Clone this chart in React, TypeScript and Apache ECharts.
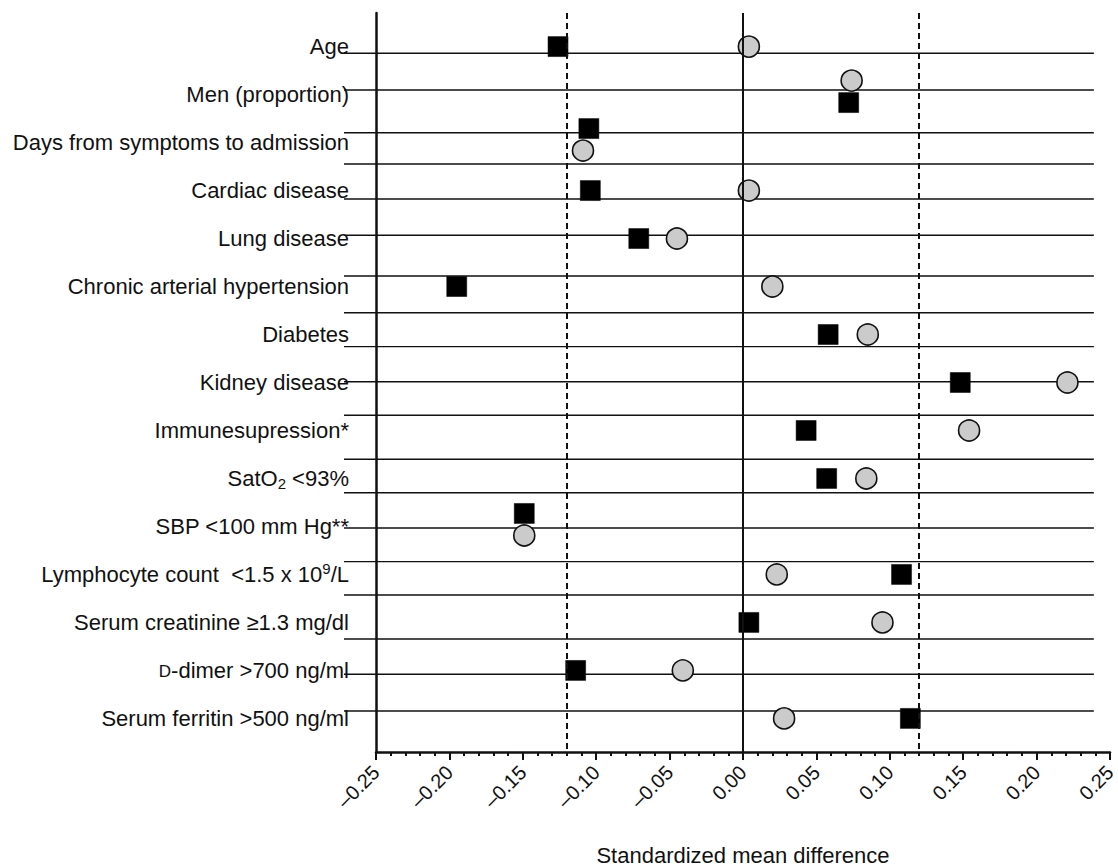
import { useEffect, useRef } from "react";
import * as echarts from "echarts";

// Row labels (top to bottom). Rich markup: {sub|..} subscript, {sup|..} superscript, {sc|..} small caps
const categories = [
  "Age",
  "Men (proportion)",
  "Days from symptoms to admission",
  "Cardiac disease",
  "Lung disease",
  "Chronic arterial hypertension",
  "Diabetes",
  "Kidney disease",
  "Immunesupression*",
  "SatO{sub|2} <93%",
  "SBP <100 mm Hg**",
  "Lymphocyte count  <1.5 x 10{sup|9}/L",
  "Serum creatinine \u22651.3 mg/dl",
  "{sc|D}-dimer >700 ng/ml",
  "Serum ferritin >500 ng/ml",
];

// Standardized mean difference — black squares
const squareValues = [
  -0.126, 0.072, -0.105, -0.104, -0.071, -0.195, 0.058, 0.148, 0.043, 0.057,
  -0.149, 0.108, 0.004, -0.114, 0.114,
];

// Standardized mean difference — grey circles
const circleValues = [
  0.004, 0.074, -0.109, 0.004, -0.045, 0.02, 0.085, 0.221, 0.154, 0.084,
  -0.149, 0.023, 0.095, -0.041, 0.028,
];

// Horizontal row rules (in row-index units)
const rowRules = [
  0.14, 0.904, 1.794, 2.446, 3.176, 3.932, 4.78, 5.545, 6.253, 6.983, 7.683,
  8.6, 9.296, 10.031, 10.733, 11.427, 12.344, 13.08, 13.845,
];

// Threshold reference lines
const thresholds = [-0.12, 0.12];

const xTicks = { min: -0.25, max: 0.25, step: 0.05 };

export default function App() {
  const ref = useRef<HTMLDivElement>(null);

  useEffect(() => {
    if (!ref.current) return;
    const chart = echarts.init(ref.current, undefined, { renderer: "svg" });
    const ink = "#111";
    const font = "'Liberation Sans', Arial, Helvetica, sans-serif";

    // vertical jitter (pixels) for rows where the two markers overlap
    const jitter: Record<number, { sq: number; ci: number }> = {
      1: { sq: 8, ci: -14 },
      2: { sq: -14, ci: 8 },
      10: { sq: -13, ci: 9 },
    };

    const sqData = squareValues.map((v, i) => ({
      value: [v, i],
      symbolOffset: [0, jitter[i] ? jitter[i].sq : 0],
    }));
    const ciData = circleValues.map((v, i) => ({
      value: [v, i],
      symbolOffset: [0, jitter[i] ? jitter[i].ci : 0],
    }));

    const ruleEnd = 0.239;

    chart.setOption({
      animation: false,
      textStyle: { fontFamily: font },
      grid: {
        left: 376,
        right: 8,
        top: 13,
        bottom: 114,
        containLabel: false,
        outerBoundsMode: "none",
      },
      xAxis: {
        type: "value",
        min: xTicks.min,
        max: xTicks.max,
        interval: xTicks.step,
        axisLine: { show: true, onZero: false, lineStyle: { color: ink, width: 2.5 } },
        axisTick: { show: true, length: 8, lineStyle: { color: ink, width: 2 } },
        minorTick: { show: true, splitNumber: 5, length: 4, lineStyle: { color: ink, width: 2 } },
        splitLine: { show: false },
        minorSplitLine: { show: false },
        axisLabel: {
          rotate: 45,
          margin: 17,
          fontSize: 20,
          color: ink,
          fontFamily: font,
          formatter: (v: number) =>
            Math.abs(v) < 1e-9 ? "0.00" : (v < 0 ? "\u2013" : "") + Math.abs(v).toFixed(2),
        },
        name: "Standardized mean difference",
        nameLocation: "middle",
        nameGap: 92,
        nameTextStyle: { fontSize: 22, color: ink, fontFamily: font },
      },
      yAxis: {
        type: "value",
        inverse: true,
        min: -0.7,
        max: 14.7,
        axisLine: { show: true, onZero: false, lineStyle: { color: ink, width: 2.5 } },
        axisTick: { show: false },
        splitLine: { show: false },
        axisLabel: {
          customValues: categories.map((_, i) => i),
          margin: 27,
          fontSize: 22,
          lineHeight: 26,
          color: ink,
          fontFamily: font,
          formatter: (v: number) => categories[Math.round(v)] ?? "",
          rich: {
            sub: { fontSize: 15, lineHeight: 15, verticalAlign: "bottom", color: ink, fontFamily: font },
            sup: { fontSize: 15, lineHeight: 15, verticalAlign: "top", color: ink, fontFamily: font },
            sc: { fontSize: 17, lineHeight: 22, padding: [3, 0, 0, 0], color: ink, fontFamily: font },
          },
        },
      },
      series: [
        {
          type: "custom",
          z: 1,
          clip: false,
          silent: true,
          data: rowRules.map((r) => [0, r]),
          renderItem: (params: any, api: any) => {
            const r = api.value(1);
            const left = api.coord([xTicks.min, r]);
            const right = api.coord([ruleEnd, r]);
            return {
              type: "line",
              shape: { x1: left[0] - 32, y1: left[1], x2: right[0], y2: right[1] },
              style: { stroke: ink, lineWidth: 1.4 },
            };
          },
          markLine: {
            silent: true,
            symbol: "none",
            label: { show: false },
            data: [
              ...thresholds.map((t) => ({
                xAxis: t,
                lineStyle: { color: ink, width: 2, type: [6, 4] },
              })),
              { xAxis: 0, lineStyle: { color: ink, width: 2, type: "solid" } },
            ],
          },
        },
        {
          type: "scatter",
          z: 3,
          symbol: "rect",
          symbolSize: 20,
          itemStyle: { color: "#000", borderColor: "#000", borderWidth: 0.5, opacity: 1 },
          data: sqData,
        },
        {
          type: "scatter",
          z: 4,
          symbol: "circle",
          symbolSize: 21,
          itemStyle: { color: "#cbcbcb", borderColor: ink, borderWidth: 1.6, opacity: 1 },
          data: ciData,
        },
      ],
    });

    return () => chart.dispose();
  }, []);

  return (
    <div
      ref={ref}
      style={{ position: "absolute", left: 0, top: 0, width: 1118, height: 866, background: "#fff" }}
    />
  );
}
